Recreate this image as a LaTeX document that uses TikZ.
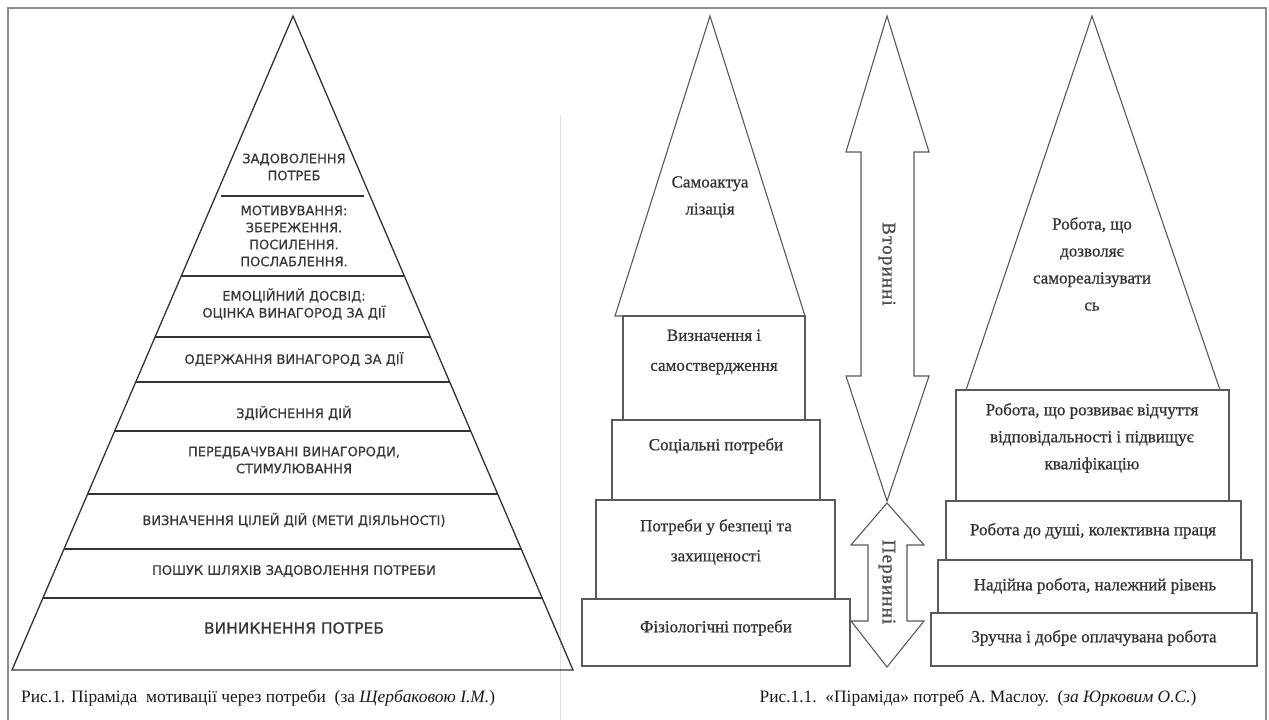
\documentclass[tikz,border=0pt]{standalone}
\usepackage{fontspec}
\setmainfont{Liberation Serif}
\newfontfamily\vsans[FakeBold=0.6]{DejaVu Sans}
\newfontfamily\bserif[FakeBold=0.7]{Liberation Serif}
\newfontfamily\aserif[FakeBold=0.9,LetterSpace=6]{Liberation Serif}
\usetikzlibrary{calc}
\begin{document}
\begin{tikzpicture}[x=1pt,y=-1pt,
  pyr/.style={draw=black!80, line width=1.3pt},
  ptxt/.style={font=\vsans\fontsize{13}{17}\selectfont, text=black!78, align=center, inner sep=0pt},
  box/.style={draw=black!65, line width=1.1pt},
  btxt/.style={font=\bserif\fontsize{17}{30}\selectfont, align=center, text=black!80, inner sep=0pt},
  rtxt/.style={font=\bserif\fontsize{17}{27}\selectfont, align=center, text=black!80, inner sep=0pt},
  atxt/.style={font=\aserif\fontsize{19}{20}\selectfont, text=black!70, inner sep=0pt, rotate=-90},
  capt/.style={font=\fontsize{17.4}{20}\selectfont, text=black!90, inner sep=0pt},
]
\useasboundingbox (0,0) rectangle (1269,720);
\fill[white] (0,0) rectangle (1269,720);
% frame and divider
\draw[black!45, line width=1.5pt] (8,720) -- (8,8) -- (1266,8) -- (1266,720);
\draw[black!12, line width=1pt] (560,115) -- (560,720);

% ---------- left pyramid ----------
\coordinate (A) at (293,16);
\coordinate (BL) at (12,670);
\coordinate (BR) at (573,670);
\draw[pyr] (A) -- (BL) -- (BR) -- cycle;
\draw[pyr] (221,196) -- (364,196);
\foreach \t in {0.3976,0.4908,0.5596,0.6346,0.7309,0.815,0.8899}{
  \draw[pyr] ($(A)!\t!(BL)$) -- ($(A)!\t!(BR)$);
}
\node[ptxt] (p1) at (294,167) {ЗАДОВОЛЕННЯ\\ПОТРЕБ};
\node[ptxt] (p2) at (294,236) {МОТИВУВАННЯ:\\ЗБЕРЕЖЕННЯ.\\ПОСИЛЕННЯ.\\ПОСЛАБЛЕННЯ.};
\node[ptxt] (p3) at (294,304) {ЕМОЦІЙНИЙ ДОСВІД:\\ОЦІНКА ВИНАГОРОД ЗА ДІЇ};
\node[ptxt] (p4) at (294,359) {ОДЕРЖАННЯ ВИНАГОРОД ЗА ДІЇ};
\node[ptxt] (p5) at (294,413) {ЗДІЙСНЕННЯ ДІЙ};
\node[ptxt] (p6) at (294,460) {ПЕРЕДБАЧУВАНІ ВИНАГОРОДИ,\\СТИМУЛЮВАННЯ};
\node[ptxt] (p7) at (294,520) {ВИЗНАЧЕННЯ ЦІЛЕЙ ДІЙ (МЕТИ ДІЯЛЬНОСТІ)};
\node[ptxt] (p8) at (294,571) {ПОШУК ШЛЯХІВ ЗАДОВОЛЕННЯ ПОТРЕБИ};
\node[ptxt, font=\vsans\fontsize{15.5}{17}\selectfont] (p9) at (294,628) {ВИНИКНЕННЯ ПОТРЕБ};
\node[capt, anchor=west] (c1) at (21,698) {Рис.1. Піраміда\ \ мотивації через потреби\ \ (за \textit{Щербаковою І.М.})};

% ---------- Maslow pyramid ----------
\draw[box] (710,16) -- (615,316) -- (805,316) -- cycle;
\draw[box] (623,316) rectangle (805,420);
\draw[box] (612,420) rectangle (820,500);
\draw[box] (596,500) rectangle (835,599);
\draw[box] (582,599) rectangle (850,666);
\node[rtxt] (m0) at (710,197) {Самоактуа\\лізація};
\node[btxt] (m1) at (714,352) {Визначення і\\самоствердження};
\node[btxt] (m2) at (716,446) {Соціальні потреби};
\node[btxt] (m3) at (716,542) {Потреби у безпеці та\\захищеності};
\node[btxt] (m4) at (716,628) {Фізіологічні потреби};

% ---------- arrows ----------
\draw[box] (887,16) -- (929,152) -- (914,152) -- (914,376) -- (929,376) -- (887,501)
  -- (846,376) -- (861,376) -- (861,152) -- (846,152) -- cycle;
\draw[box] (887,503) -- (924,545) -- (907,545) -- (907,621) -- (924,621) -- (887,667)
  -- (851,621) -- (868,621) -- (868,545) -- (851,545) -- cycle;
\node[atxt] (a1) at (887,264) {Вторинні};
\node[atxt] (a2) at (887,582) {Первинні};

% ---------- right pyramid ----------
\draw[box] (1092,16) -- (966,390) -- (1220,390) -- cycle;
\draw[box] (956,390) rectangle (1229,501);
\draw[box] (946,501) rectangle (1241,560);
\draw[box] (938,560) rectangle (1252,613);
\draw[box] (931,613) rectangle (1257,666);
\node[rtxt] (r0) at (1092,264) {Робота, що\\дозволяє\\самореалізувати\\сь};
\node[rtxt] (r1) at (1092,438) {Робота, що розвиває відчуття\\відповідальності і підвищує\\кваліфікацію};
\node[rtxt] (r2) at (1093,531) {Робота до душі, колективна праця};
\node[rtxt] (r3) at (1095,586) {Надійна робота, належний рівень};
\node[rtxt] (r4) at (1094,638) {Зручна і добре оплачувана робота};
\node[capt] (c2) at (978,698) {Рис.1.1.\ \ «Піраміда» потреб А. Маслоу.\ \ (\textit{за Юрковим О.С.})};
\end{tikzpicture}
\end{document}
